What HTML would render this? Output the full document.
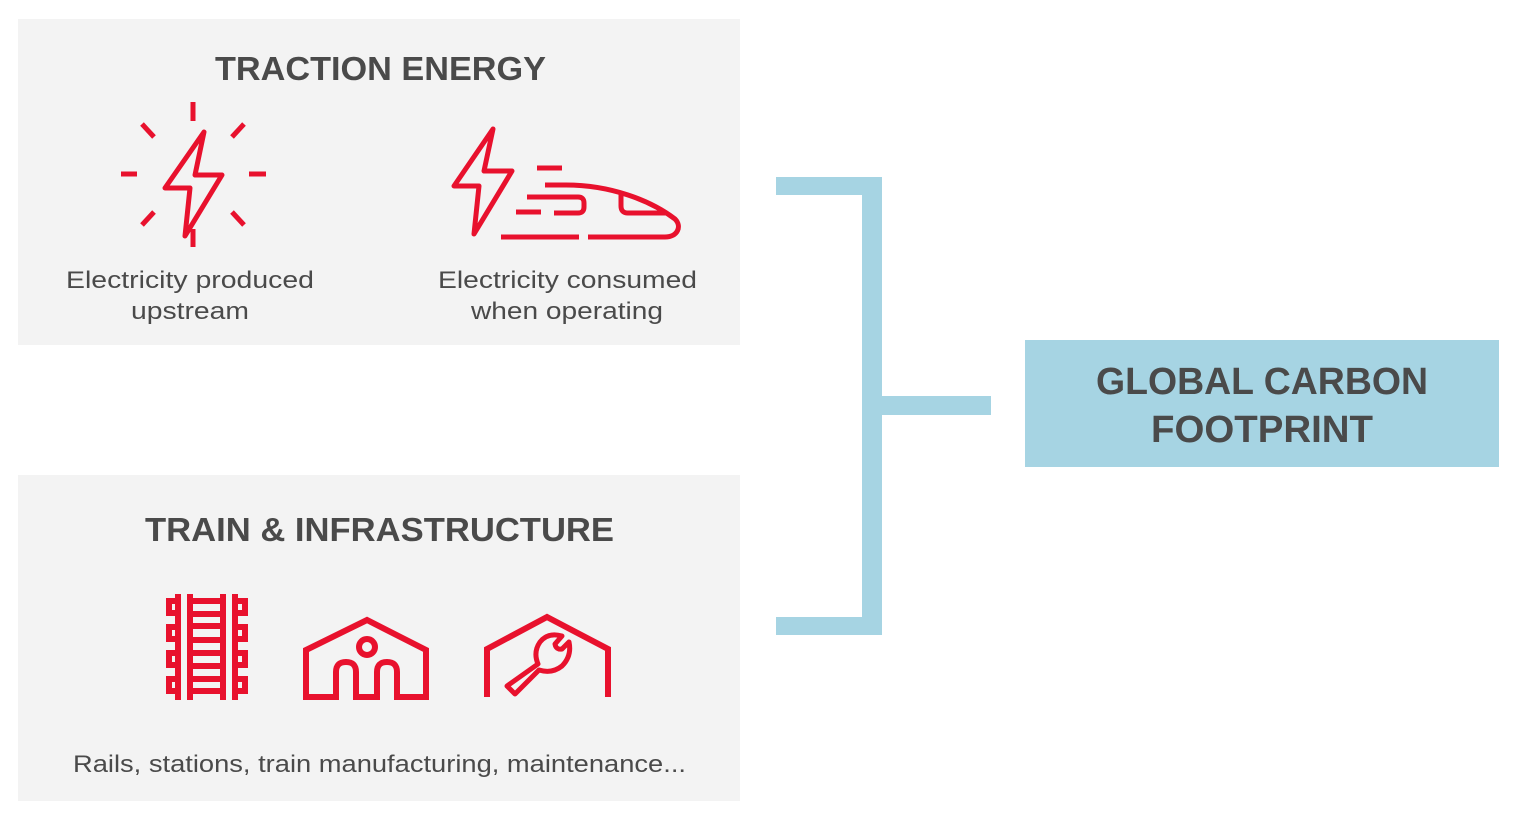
<!DOCTYPE html>
<html><head><meta charset="utf-8"><style>
html,body{margin:0;padding:0;background:#fff;}
svg{display:block}
text{font-family:"Liberation Sans",sans-serif;fill:#4a4a4a}
</style></head><body>
<svg width="1514" height="825" viewBox="0 0 1514 825" xmlns="http://www.w3.org/2000/svg">
<rect x="18" y="19" width="722" height="326" fill="#f3f3f3"/>
<rect x="18" y="475" width="722" height="326" fill="#f3f3f3"/>
<text x="215" y="80" font-size="33" font-weight="bold" textLength="331" lengthAdjust="spacingAndGlyphs">TRACTION ENERGY</text>
<text x="145" y="541" font-size="33" font-weight="bold" textLength="469" lengthAdjust="spacingAndGlyphs">TRAIN &amp; INFRASTRUCTURE</text>
<g font-size="24">
<text x="66" y="288" textLength="248" lengthAdjust="spacingAndGlyphs">Electricity produced</text>
<text x="131" y="319" textLength="118" lengthAdjust="spacingAndGlyphs">upstream</text>
<text x="438" y="288" textLength="259" lengthAdjust="spacingAndGlyphs">Electricity consumed</text>
<text x="471" y="319" textLength="192" lengthAdjust="spacingAndGlyphs">when operating</text>
<text x="73" y="772" textLength="613" lengthAdjust="spacingAndGlyphs">Rails, stations, train manufacturing, maintenance...</text>
</g>
<g fill="#a6d4e3">
<rect x="862" y="177" width="20" height="458"/>
<rect x="776" y="177" width="106" height="18"/>
<rect x="776" y="617" width="106" height="18"/>
<rect x="882" y="396" width="109" height="19"/>
<rect x="1025" y="340" width="474" height="127"/>
</g>
<text x="1096" y="394" font-size="38" font-weight="bold" textLength="332" lengthAdjust="spacingAndGlyphs">GLOBAL CARBON</text>
<text x="1151" y="442" font-size="38" font-weight="bold" textLength="222" lengthAdjust="spacingAndGlyphs">FOOTPRINT</text>
<g stroke="#e8112d" stroke-width="5" fill="none" stroke-linejoin="round">
<line x1="193" y1="102" x2="193" y2="121"/>
<line x1="193" y1="229" x2="193" y2="247"/>
<line x1="121" y1="174" x2="137" y2="174"/>
<line x1="249" y1="174" x2="266" y2="174"/>
<line x1="142" y1="124" x2="154" y2="137"/>
<line x1="244" y1="124" x2="232" y2="137"/>
<line x1="142" y1="225" x2="154" y2="212"/>
<line x1="244" y1="225" x2="232" y2="212"/>
<polygon points="204,132 195,175 222,175 185,236 190,188 165,188"/>
<polygon points="493,129 484,171 512,171 474,234 479,186 454,186"/>
<line x1="537" y1="168" x2="562" y2="168"/>
<path d="M545,185 L566,185 C610,185 650,200 675,219 C682,226 678,237 665,237 L588,237"/>
<line x1="501" y1="237" x2="579" y2="237"/>
<path d="M527,197 L578,197 Q584,197 584,203 L584,207 Q584,213 578,213 L554,213"/>
<line x1="516" y1="212" x2="541" y2="212"/>
<path d="M621,193 L621,206 Q621,213 628,213 L666,213"/>
</g>
<g fill="#e8112d">
<rect x="175" y="594" width="6" height="106"/>
<rect x="187" y="594" width="6" height="106"/>
<rect x="220" y="594" width="6" height="106"/>
<rect x="232" y="594" width="6" height="106"/>
<rect x="193" y="598" width="27" height="6"/>
<rect x="193" y="611" width="27" height="6"/>
<rect x="193" y="623" width="27" height="6"/>
<rect x="193" y="637" width="27" height="6"/>
<rect x="193" y="650" width="27" height="6"/>
<rect x="193" y="663" width="27" height="6"/>
<rect x="193" y="676" width="27" height="6"/>
<rect x="193" y="688" width="27" height="6"/>
</g>
<g stroke="#e8112d" stroke-width="6" fill="none">
<rect x="169" y="601" width="9" height="12"/>
<rect x="169" y="627" width="9" height="12"/>
<rect x="169" y="653" width="9" height="12"/>
<rect x="169" y="679" width="9" height="12"/>
<rect x="235" y="601" width="10" height="12"/>
<rect x="235" y="627" width="10" height="12"/>
<rect x="235" y="653" width="10" height="12"/>
<rect x="235" y="679" width="10" height="12"/>
<path d="M306,697 L306,650 L367,620 L426,650 L426,697 L397,697 L397,672 Q397,662 387,662 Q377,662 377,672 L377,697 L356,697 L356,672 Q356,662 346,662 Q336,662 336,672 L336,697 Z"/>
<circle cx="367" cy="647" r="8"/>
<path d="M487,697 L487,649 L547,617 L608,649 L608,697"/>
</g>
<g stroke="#e8112d" stroke-width="5" fill="none" stroke-linejoin="round">
<path d="M507,686 L515,694 L539,670 Q552,674 562,666 Q572,656 569,642 L562,649 Q556,650 555,644 L562,636 Q548,632 540,642 Q533,652 538,664 Z"/>
</g>
</svg>
</body></html>
